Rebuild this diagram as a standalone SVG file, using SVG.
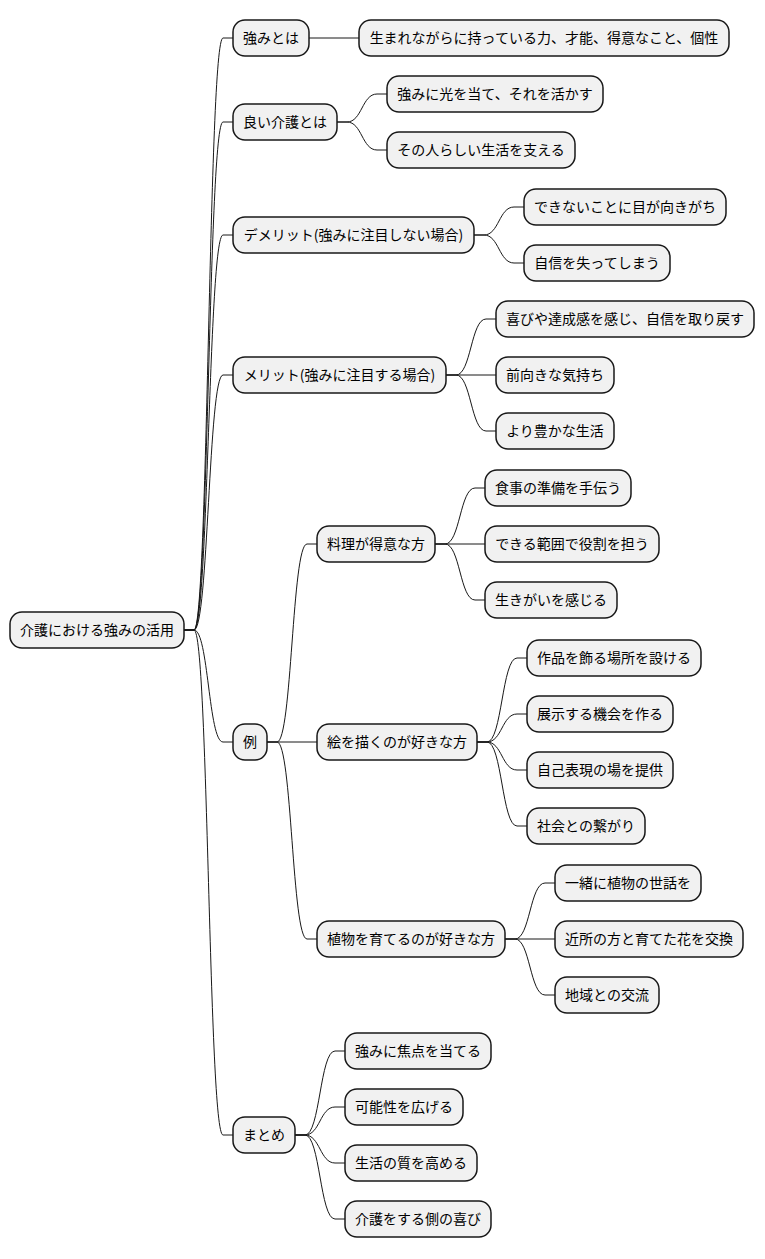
<svg xmlns="http://www.w3.org/2000/svg" width="765" height="1259" viewBox="0 0 765 1259">
<style>
.n rect{fill:#F1F1F1;stroke:#181818;stroke-width:1.5}
.n text{font-family:"Noto Sans CJK JP","Noto Sans",sans-serif;font-size:14px;fill:#000;text-anchor:middle}
#connectors path{fill:none;stroke:#181818;stroke-width:1}
</style>
<rect width="765" height="1259" fill="#FFFFFF"/>
<g id="connectors">
<path d="M184,630 L194,630 C208.5,630 208.5,38 223,38 L233,38"/>
<path d="M184,630 L194,630 C208.5,630 208.5,122 223,122 L233,122"/>
<path d="M184,630 L194,630 C208.5,630 208.5,235 223,235 L233,235"/>
<path d="M184,630 L194,630 C208.5,630 208.5,375 223,375 L233,375"/>
<path d="M184,630 L194,630 C208.5,630 208.5,742 223,742 L233,742"/>
<path d="M184,630 L194,630 C208.5,630 208.5,1135 223,1135 L233,1135"/>
<path d="M309,38 L359,38"/>
<path d="M337,122 L347,122 C362,122 362,94 377,94 L387,94"/>
<path d="M337,122 L347,122 C362,122 362,150 377,150 L387,150"/>
<path d="M474,235 L484,235 C499,235 499,207 514,207 L524,207"/>
<path d="M474,235 L484,235 C499,235 499,263 514,263 L524,263"/>
<path d="M446,375 L456,375 C471,375 471,319 486,319 L496,319"/>
<path d="M446,375 L496,375"/>
<path d="M446,375 L456,375 C471,375 471,431 486,431 L496,431"/>
<path d="M267,742 L277,742 C292,742 292,544 307,544 L317,544"/>
<path d="M267,742 L317,742"/>
<path d="M267,742 L277,742 C292,742 292,939 307,939 L317,939"/>
<path d="M435,544 L445,544 C460,544 460,488 475,488 L485,488"/>
<path d="M435,544 L485,544"/>
<path d="M435,544 L445,544 C460,544 460,600 475,600 L485,600"/>
<path d="M477,742 L487,742 C502,742 502,658 517,658 L527,658"/>
<path d="M477,742 L487,742 C502,742 502,714 517,714 L527,714"/>
<path d="M477,742 L487,742 C502,742 502,770 517,770 L527,770"/>
<path d="M477,742 L487,742 C502,742 502,826 517,826 L527,826"/>
<path d="M505,939 L515,939 C530,939 530,883 545,883 L555,883"/>
<path d="M505,939 L555,939"/>
<path d="M505,939 L515,939 C530,939 530,995 545,995 L555,995"/>
<path d="M295,1135 L305,1135 C320,1135 320,1051 335,1051 L345,1051"/>
<path d="M295,1135 L305,1135 C320,1135 320,1107 335,1107 L345,1107"/>
<path d="M295,1135 L305,1135 C320,1135 320,1163 335,1163 L345,1163"/>
<path d="M295,1135 L305,1135 C320,1135 320,1219 335,1219 L345,1219"/>
</g>
<g id="root" class="n"><rect x="10" y="612" width="174" height="36" rx="12"/><text x="97" y="635">介護における強みの活用</text></g>
<g id="n1" class="n"><rect x="233" y="20" width="76" height="36" rx="12"/><text x="271" y="43">強みとは</text></g>
<g id="n1a" class="n"><rect x="359" y="20" width="370" height="36" rx="12"/><text x="544" y="43">生まれながらに持っている力、才能、得意なこと、個性</text></g>
<g id="n2" class="n"><rect x="233" y="104" width="104" height="36" rx="12"/><text x="285" y="127">良い介護とは</text></g>
<g id="n2a" class="n"><rect x="387" y="76" width="216" height="36" rx="12"/><text x="495" y="99">強みに光を当て、それを活かす</text></g>
<g id="n2b" class="n"><rect x="387" y="132" width="188" height="36" rx="12"/><text x="481" y="155">その人らしい生活を支える</text></g>
<g id="n3" class="n"><rect x="233" y="217" width="241" height="36" rx="12"/><text x="353.5" y="240">デメリット(強みに注目しない場合)</text></g>
<g id="n3a" class="n"><rect x="524" y="189" width="202" height="36" rx="12"/><text x="625" y="212">できないことに目が向きがち</text></g>
<g id="n3b" class="n"><rect x="524" y="245" width="146" height="36" rx="12"/><text x="597" y="268">自信を失ってしまう</text></g>
<g id="n4" class="n"><rect x="233" y="357" width="213" height="36" rx="12"/><text x="339.5" y="380">メリット(強みに注目する場合)</text></g>
<g id="n4a" class="n"><rect x="496" y="301" width="258" height="36" rx="12"/><text x="625" y="324">喜びや達成感を感じ、自信を取り戻す</text></g>
<g id="n4b" class="n"><rect x="496" y="357" width="118" height="36" rx="12"/><text x="555" y="380">前向きな気持ち</text></g>
<g id="n4c" class="n"><rect x="496" y="413" width="118" height="36" rx="12"/><text x="555" y="436">より豊かな生活</text></g>
<g id="n5" class="n"><rect x="233" y="724" width="34" height="36" rx="12"/><text x="250" y="747">例</text></g>
<g id="n5a" class="n"><rect x="317" y="526" width="118" height="36" rx="12"/><text x="376" y="549">料理が得意な方</text></g>
<g id="n5a1" class="n"><rect x="485" y="470" width="146" height="36" rx="12"/><text x="558" y="493">食事の準備を手伝う</text></g>
<g id="n5a2" class="n"><rect x="485" y="526" width="174" height="36" rx="12"/><text x="572" y="549">できる範囲で役割を担う</text></g>
<g id="n5a3" class="n"><rect x="485" y="582" width="132" height="36" rx="12"/><text x="551" y="605">生きがいを感じる</text></g>
<g id="n5b" class="n"><rect x="317" y="724" width="160" height="36" rx="12"/><text x="397" y="747">絵を描くのが好きな方</text></g>
<g id="n5b1" class="n"><rect x="527" y="640" width="174" height="36" rx="12"/><text x="614" y="663">作品を飾る場所を設ける</text></g>
<g id="n5b2" class="n"><rect x="527" y="696" width="146" height="36" rx="12"/><text x="600" y="719">展示する機会を作る</text></g>
<g id="n5b3" class="n"><rect x="527" y="752" width="146" height="36" rx="12"/><text x="600" y="775">自己表現の場を提供</text></g>
<g id="n5b4" class="n"><rect x="527" y="808" width="118" height="36" rx="12"/><text x="586" y="831">社会との繋がり</text></g>
<g id="n5c" class="n"><rect x="317" y="921" width="188" height="36" rx="12"/><text x="411" y="944">植物を育てるのが好きな方</text></g>
<g id="n5c1" class="n"><rect x="555" y="865" width="146" height="36" rx="12"/><text x="628" y="888">一緒に植物の世話を</text></g>
<g id="n5c2" class="n"><rect x="555" y="921" width="188" height="36" rx="12"/><text x="649" y="944">近所の方と育てた花を交換</text></g>
<g id="n5c3" class="n"><rect x="555" y="977" width="104" height="36" rx="12"/><text x="607" y="1000">地域との交流</text></g>
<g id="n6" class="n"><rect x="233" y="1117" width="62" height="36" rx="12"/><text x="264" y="1140">まとめ</text></g>
<g id="n6a" class="n"><rect x="345" y="1033" width="146" height="36" rx="12"/><text x="418" y="1056">強みに焦点を当てる</text></g>
<g id="n6b" class="n"><rect x="345" y="1089" width="118" height="36" rx="12"/><text x="404" y="1112">可能性を広げる</text></g>
<g id="n6c" class="n"><rect x="345" y="1145" width="132" height="36" rx="12"/><text x="411" y="1168">生活の質を高める</text></g>
<g id="n6d" class="n"><rect x="345" y="1201" width="146" height="36" rx="12"/><text x="418" y="1224">介護をする側の喜び</text></g>
</svg>
